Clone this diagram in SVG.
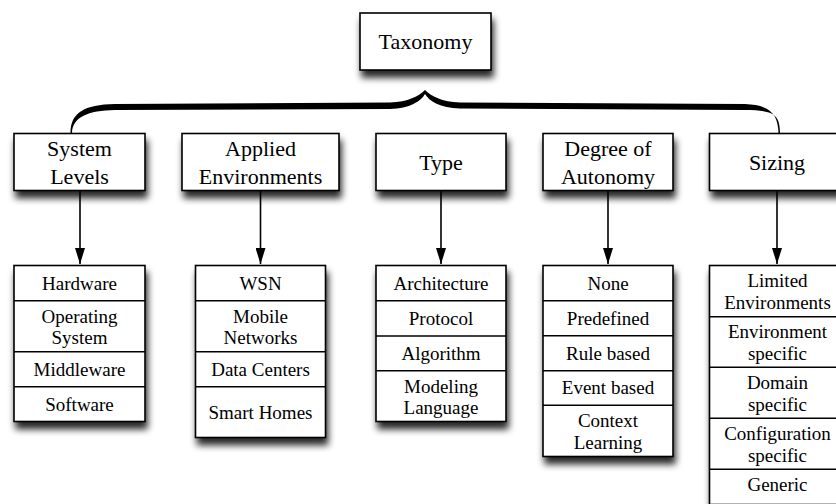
<svg xmlns="http://www.w3.org/2000/svg" width="836" height="504" viewBox="0 0 836 504">
<defs>
<filter id="sh" x="-20%" y="-20%" width="150%" height="150%">
<feGaussianBlur in="SourceAlpha" stdDeviation="3.5"/>
<feOffset dx="2" dy="7" result="b"/>
<feComponentTransfer><feFuncA type="linear" slope="0.85"/></feComponentTransfer>
<feMerge><feMergeNode/><feMergeNode in="SourceGraphic"/></feMerge>
</filter>
<marker id="ah" markerUnits="userSpaceOnUse" viewBox="0 0 16 10" markerWidth="16" markerHeight="10" refX="16" refY="5" orient="auto">
<path d="M0,0 L16,5 L0,10 z" fill="#000"/>
</marker>
</defs>
<rect width="836" height="504" fill="#fff"/>

<g id="connectors" stroke="#000" stroke-width="1.6" fill="none">
<path d="M70.5,133 C70.5,113 84,104.5 115,104 L390,102.5 C408,102 419,96 425,90 C431,96 442,102 460,102.5 L745,104 C771,105 778,115 778.5,133 L780,133 C780,114 773,110 745,110 L460,108.5 C440,108 429,101 425,94 C421,101 410,108.5 390,109 L115,110 C88,110.5 72.5,117 72,133 Z" fill="#000" stroke="none"/>
<line x1="80" y1="191" x2="80" y2="264" marker-end="url(#ah)"/>
<line x1="260.5" y1="191" x2="260.5" y2="264" marker-end="url(#ah)"/>
<line x1="441" y1="191" x2="441" y2="264" marker-end="url(#ah)"/>
<line x1="608" y1="191" x2="608" y2="264" marker-end="url(#ah)"/>
<line x1="777" y1="191" x2="777" y2="264" marker-end="url(#ah)"/>
</g>

<g fill="#fff" stroke="#000" stroke-width="1.6">
<g id="taxonomy">
<rect x="360" y="13" width="131" height="57" filter="url(#sh)"/>
<text x="425.5" y="49" style="font-family:'Liberation Serif',serif;font-size:22px;text-anchor:middle;fill:#000;stroke:none">Taxonomy</text>
</g>
<g id="system-levels">
<rect x="14" y="133.5" width="131" height="57" filter="url(#sh)"/>
<text x="79.5" y="156" style="font-family:'Liberation Serif',serif;font-size:22px;text-anchor:middle;fill:#000;stroke:none">System</text>
<text x="79.5" y="184" style="font-family:'Liberation Serif',serif;font-size:22px;text-anchor:middle;fill:#000;stroke:none">Levels</text>
</g>
<g id="applied-environments">
<rect x="182" y="133.5" width="157" height="57" filter="url(#sh)"/>
<text x="260.5" y="156" style="font-family:'Liberation Serif',serif;font-size:22px;text-anchor:middle;fill:#000;stroke:none">Applied</text>
<text x="260.5" y="184" style="font-family:'Liberation Serif',serif;font-size:22px;text-anchor:middle;fill:#000;stroke:none">Environments</text>
</g>
<g id="type">
<rect x="376" y="133.5" width="130" height="57" filter="url(#sh)"/>
<text x="441" y="170" style="font-family:'Liberation Serif',serif;font-size:22px;text-anchor:middle;fill:#000;stroke:none">Type</text>
</g>
<g id="degree-of-autonomy">
<rect x="543" y="133.5" width="130" height="57" filter="url(#sh)"/>
<text x="608" y="156" style="font-family:'Liberation Serif',serif;font-size:22px;text-anchor:middle;fill:#000;stroke:none">Degree of</text>
<text x="608" y="184" style="font-family:'Liberation Serif',serif;font-size:22px;text-anchor:middle;fill:#000;stroke:none">Autonomy</text>
</g>
<g id="sizing">
<rect x="709.5" y="133.5" width="136" height="57" filter="url(#sh)"/>
<text x="777" y="170" style="font-family:'Liberation Serif',serif;font-size:22px;text-anchor:middle;fill:#000;stroke:none">Sizing</text>
</g>

<g id="system-levels-list">
<rect x="14" y="265.5" width="131" height="156" filter="url(#sh)"/>
<path fill="none" d="M14,300.7 H145 M14,351.7 H145 M14,386.7 H145"/>
<text x="79.5" y="289.5" style="font-family:'Liberation Serif',serif;font-size:19px;text-anchor:middle;fill:#000;stroke:none">Hardware</text>
<text x="79.5" y="322.7" style="font-family:'Liberation Serif',serif;font-size:19px;text-anchor:middle;fill:#000;stroke:none">Operating</text>
<text x="79.5" y="344.3" style="font-family:'Liberation Serif',serif;font-size:19px;text-anchor:middle;fill:#000;stroke:none">System</text>
<text x="79.5" y="375.5" style="font-family:'Liberation Serif',serif;font-size:19px;text-anchor:middle;fill:#000;stroke:none">Middleware</text>
<text x="79.5" y="410.5" style="font-family:'Liberation Serif',serif;font-size:19px;text-anchor:middle;fill:#000;stroke:none">Software</text>
</g>
<g id="applied-environments-list">
<rect x="195.5" y="265.5" width="130" height="172" filter="url(#sh)"/>
<path fill="none" d="M195.5,300.7 H325.5 M195.5,351.7 H325.5 M195.5,386.7 H325.5"/>
<text x="260.5" y="289.5" style="font-family:'Liberation Serif',serif;font-size:19px;text-anchor:middle;fill:#000;stroke:none">WSN</text>
<text x="260.5" y="322.7" style="font-family:'Liberation Serif',serif;font-size:19px;text-anchor:middle;fill:#000;stroke:none">Mobile</text>
<text x="260.5" y="344.3" style="font-family:'Liberation Serif',serif;font-size:19px;text-anchor:middle;fill:#000;stroke:none">Networks</text>
<text x="260.5" y="375.5" style="font-family:'Liberation Serif',serif;font-size:19px;text-anchor:middle;fill:#000;stroke:none">Data Centers</text>
<text x="260.5" y="418.5" style="font-family:'Liberation Serif',serif;font-size:19px;text-anchor:middle;fill:#000;stroke:none">Smart Homes</text>
</g>
<g id="type-list">
<rect x="376" y="265.5" width="130" height="156" filter="url(#sh)"/>
<path fill="none" d="M376,300.7 H506 M376,336 H506 M376,370.7 H506"/>
<text x="441" y="289.5" style="font-family:'Liberation Serif',serif;font-size:19px;text-anchor:middle;fill:#000;stroke:none">Architecture</text>
<text x="441" y="324.5" style="font-family:'Liberation Serif',serif;font-size:19px;text-anchor:middle;fill:#000;stroke:none">Protocol</text>
<text x="441" y="359.5" style="font-family:'Liberation Serif',serif;font-size:19px;text-anchor:middle;fill:#000;stroke:none">Algorithm</text>
<text x="441" y="392.5" style="font-family:'Liberation Serif',serif;font-size:19px;text-anchor:middle;fill:#000;stroke:none">Modeling</text>
<text x="441" y="414" style="font-family:'Liberation Serif',serif;font-size:19px;text-anchor:middle;fill:#000;stroke:none">Language</text>
</g>
<g id="degree-of-autonomy-list">
<rect x="543" y="265.5" width="130" height="191" filter="url(#sh)"/>
<path fill="none" d="M543,300.7 H673 M543,335.7 H673 M543,370.7 H673 M543,405.3 H673"/>
<text x="608" y="289.5" style="font-family:'Liberation Serif',serif;font-size:19px;text-anchor:middle;fill:#000;stroke:none">None</text>
<text x="608" y="324.5" style="font-family:'Liberation Serif',serif;font-size:19px;text-anchor:middle;fill:#000;stroke:none">Predefined</text>
<text x="608" y="359.5" style="font-family:'Liberation Serif',serif;font-size:19px;text-anchor:middle;fill:#000;stroke:none">Rule based</text>
<text x="608" y="394" style="font-family:'Liberation Serif',serif;font-size:19px;text-anchor:middle;fill:#000;stroke:none">Event based</text>
<text x="608" y="427" style="font-family:'Liberation Serif',serif;font-size:19px;text-anchor:middle;fill:#000;stroke:none">Context</text>
<text x="608" y="449" style="font-family:'Liberation Serif',serif;font-size:19px;text-anchor:middle;fill:#000;stroke:none">Learning</text>
</g>
<g id="sizing-list">
<rect x="709.5" y="265.5" width="136" height="239" filter="url(#sh)"/>
<path fill="none" d="M709.5,316.7 H846 M709.5,367.3 H846 M709.5,418.3 H846 M709.5,469.3 H846"/>
<text x="777.5" y="287" style="font-family:'Liberation Serif',serif;font-size:19px;text-anchor:middle;fill:#000;stroke:none">Limited</text>
<text x="777.5" y="308.5" style="font-family:'Liberation Serif',serif;font-size:19px;text-anchor:middle;fill:#000;stroke:none">Environments</text>
<text x="777.5" y="338" style="font-family:'Liberation Serif',serif;font-size:19px;text-anchor:middle;fill:#000;stroke:none">Environment</text>
<text x="777.5" y="359.5" style="font-family:'Liberation Serif',serif;font-size:19px;text-anchor:middle;fill:#000;stroke:none">specific</text>
<text x="777.5" y="389" style="font-family:'Liberation Serif',serif;font-size:19px;text-anchor:middle;fill:#000;stroke:none">Domain</text>
<text x="777.5" y="410.5" style="font-family:'Liberation Serif',serif;font-size:19px;text-anchor:middle;fill:#000;stroke:none">specific</text>
<text x="777.5" y="440" style="font-family:'Liberation Serif',serif;font-size:19px;text-anchor:middle;fill:#000;stroke:none">Configuration</text>
<text x="777.5" y="461.5" style="font-family:'Liberation Serif',serif;font-size:19px;text-anchor:middle;fill:#000;stroke:none">specific</text>
<text x="777.5" y="491" style="font-family:'Liberation Serif',serif;font-size:19px;text-anchor:middle;fill:#000;stroke:none">Generic</text>
</g>
</g>
</svg>
